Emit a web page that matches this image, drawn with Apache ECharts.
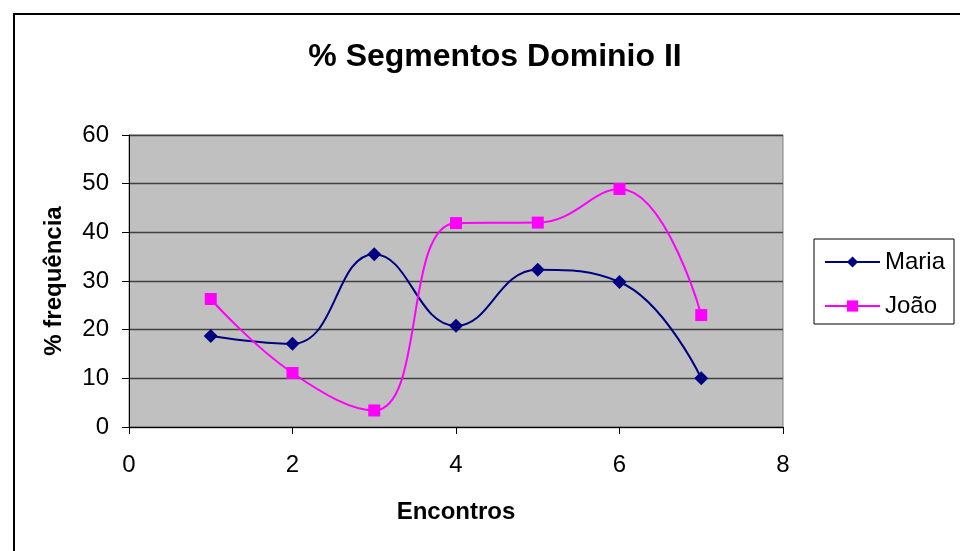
<!DOCTYPE html>
<html>
<head>
<meta charset="utf-8">
<script src="https://cdn.jsdelivr.net/npm/echarts@6/dist/echarts.min.js"></script>
<style>
  html, body { margin: 0; padding: 0; background: #fff; }
  #chart { width: 960px; height: 551px; }
</style>
</head>
<body>
<div id="chart"></div>
<script>
// Encontros (x) and % frequência for each person
const encontros = [1, 2, 3, 4, 5, 6, 7];
const maria = [18.7, 17.1, 35.5, 20.8, 32.3, 29.8, 10.0];
const joao = [26.3, 11.1, 3.4, 41.9, 42.0, 48.9, 23.0];

const pairs = (xs, ys) => xs.map((x, i) => [x, ys[i]]);

const chart = echarts.init(document.getElementById('chart'), null, { renderer: 'canvas' });

const font = 'Arial, "Liberation Sans", sans-serif';

chart.setOption({
  animation: false,
  backgroundColor: '#ffffff',
  title: {
    text: '% Segmentos Dominio II',
    left: 490,
    textAlign: 'center',
    top: 36,
    textStyle: { fontFamily: font, fontSize: 32, fontWeight: 'bold', color: '#000' }
  },
  graphic: [{
    type: 'rect',
    shape: { x: 14, y: 14, width: 960, height: 560 },
    style: { fill: 'none', stroke: '#000', lineWidth: 2 },
    silent: true
  }],
  legend: {
    orient: 'vertical',
    left: 814,
    top: 239,
    padding: [11, 9, 6, 10],
    itemGap: 20,
    itemWidth: 55,
    itemHeight: 14,
    borderColor: '#000',
    borderWidth: 1,
    backgroundColor: '#fff',
    textStyle: { fontFamily: font, fontSize: 24, color: '#000', padding: [0, 0, 0, 0] },
    data: ['Maria', 'João']
  },
  grid: {
    left: 129,
    right: 177,
    top: 135,
    bottom: 124,
    show: true,
    backgroundColor: '#C0C0C0',
    borderColor: '#808080',
    borderWidth: 1
  },
  xAxis: {
    type: 'value',
    min: 0,
    max: 8,
    interval: 2,
    name: 'Encontros',
    nameLocation: 'middle',
    nameGap: 73,
    nameTextStyle: { fontFamily: font, fontSize: 24, fontWeight: 'bold', color: '#000' },
    axisLine: { show: true, onZero: false, lineStyle: { color: '#000', width: 1 } },
    axisTick: { show: true, inside: false, length: 7, lineStyle: { color: '#000' } },
    axisLabel: { fontFamily: font, fontSize: 24, color: '#000', margin: 26 },
    splitLine: { show: false }
  },
  yAxis: {
    type: 'value',
    min: 0,
    max: 60,
    interval: 10,
    name: '% frequência',
    nameLocation: 'middle',
    nameGap: 63,
    nameRotate: 90,
    nameTextStyle: { fontFamily: font, fontSize: 24, fontWeight: 'bold', color: '#000' },
    axisLine: { show: true, lineStyle: { color: '#000', width: 1 } },
    axisTick: { show: true, inside: false, length: 7, lineStyle: { color: '#000' } },
    axisLabel: { fontFamily: font, fontSize: 24, color: '#000', margin: 20 },
    splitLine: { show: true, lineStyle: { color: '#404040', width: 1.3 } }
  },
  series: [
    {
      name: 'Maria',
      type: 'line',
      data: pairs(encontros, maria),
      smooth: 0.45,
      symbol: 'diamond',
      symbolSize: 14,
      lineStyle: { color: '#000080', width: 2 },
      itemStyle: { color: '#000080' }
    },
    {
      name: 'João',
      type: 'line',
      data: pairs(encontros, joao),
      smooth: 0.45,
      symbol: 'rect',
      symbolSize: 12,
      lineStyle: { color: '#FF00FF', width: 2 },
      itemStyle: { color: '#FF00FF' }
    }
  ]
});
</script>
</body>
</html>
